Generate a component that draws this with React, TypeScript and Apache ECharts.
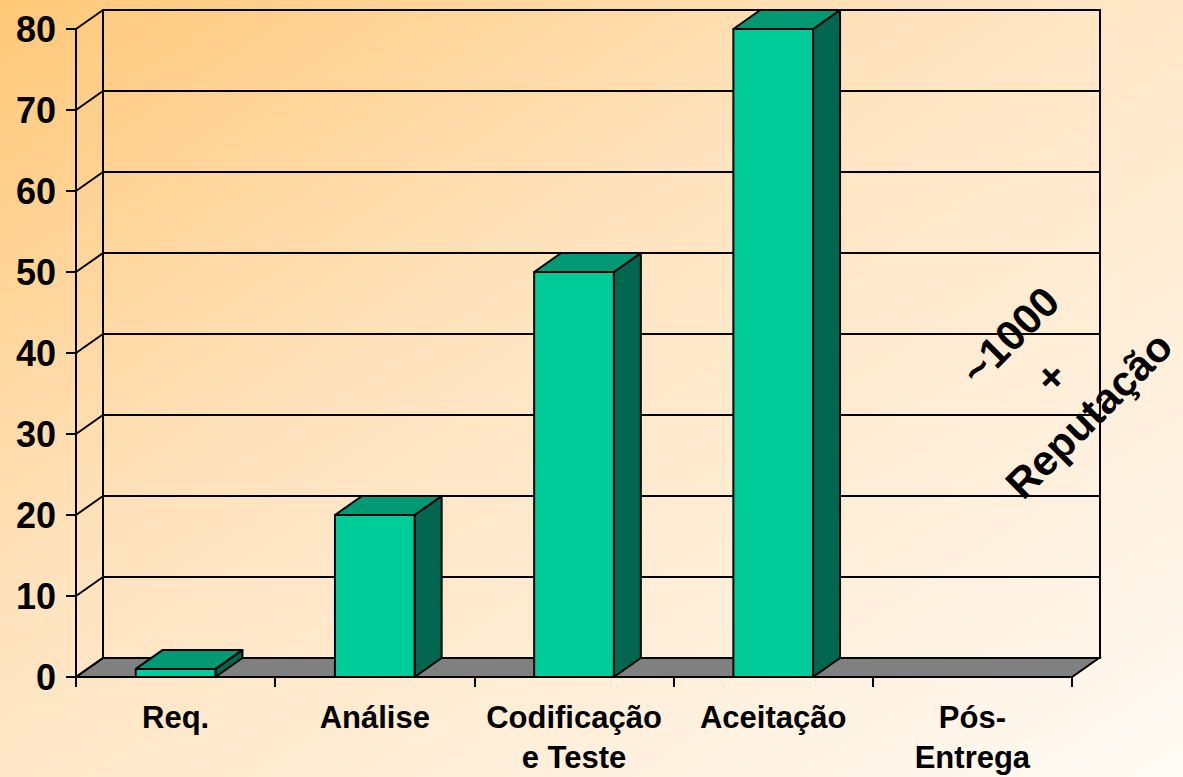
import React, { useEffect, useRef } from "react";
import * as echarts from "echarts";

const CATEGORIES = ["Req.", "Análise", "Codificação\ne Teste", "Aceitação", "Pós-\nEntrega"];
const VALUES: (number | null)[] = [1, 20, 50, 80, null];
const Y_MIN = 0;
const Y_MAX = 80;
const Y_STEP = 10;
const Y_TICKS = [0, 10, 20, 30, 40, 50, 60, 70, 80];
const ANNOTATION = ["~1000", "+", "Reputação"];

const DX = 27;
const DY = -19;
const FONT = '"Liberation Sans", Arial, sans-serif';

export default function App() {
  const ref = useRef<HTMLDivElement>(null);
  useEffect(() => {
    if (!ref.current) return;
    const chart = echarts.init(ref.current, null, { renderer: "svg" });

    const barData = VALUES.map((v, i) => (v === null ? null : [i, v])).filter((d) => d !== null);

    // annotation lines placed along the 45° diagonal, centred on the "+"
    const annCenter = [1051, 377];
    const annStep = 40;
    const annShift = [-1, 0, -2];
    const annotationGraphics = ANNOTATION.map((t, k) => ({
      type: "text",
      x: annCenter[0] + (k - 1) * annStep + annShift[k],
      y: annCenter[1] + (k - 1) * annStep + annShift[k],
      rotation: Math.PI / 4,
      z: 10,
      style: {
        text: t,
        fill: "#000",
        fontFamily: FONT,
        fontWeight: "bold",
        fontSize: 42,
        align: "center",
        verticalAlign: "middle",
        textAlign: "center",
        textVerticalAlign: "middle",
      },
    }));

    const option: any = {
      animation: false,
      backgroundColor: {
        type: "linear",
        x: 0,
        y: 0,
        x2: 1,
        y2: 1,
        colorStops: [
          { offset: 0, color: "#FFC878" },
          { offset: 0.4, color: "#FFE3BE" },
          { offset: 1, color: "#FFFAF4" },
        ],
      },
      grid: [
        { left: 76, right: 111, top: 29, bottom: 100 },
        {
          left: 103,
          right: 83,
          top: 10,
          bottom: 119,
          show: true,
          borderColor: "#000",
          borderWidth: 2,
          backgroundColor: "transparent",
        },
      ],
      xAxis: [
        {
          type: "category",
          gridIndex: 0,
          data: CATEGORIES,
          axisLine: { show: true, lineStyle: { color: "#000", width: 2 } },
          axisTick: { show: true, length: 10, interval: 0, lineStyle: { color: "#000", width: 2 } },
          axisLabel: {
            interval: 0,
            color: "#000",
            fontFamily: FONT,
            fontWeight: "bold",
            fontSize: 31,
            lineHeight: 40,
            margin: 20,
          },
          splitLine: { show: false },
        },
        {
          type: "category",
          gridIndex: 1,
          data: CATEGORIES,
          show: false,
        },
      ],
      yAxis: [
        {
          type: "value",
          gridIndex: 0,
          min: Y_MIN,
          max: Y_MAX,
          interval: Y_STEP,
          axisLine: { show: true, lineStyle: { color: "#000", width: 2 } },
          axisTick: { show: true, length: 10, lineStyle: { color: "#000", width: 2 } },
          axisLabel: {
            color: "#000",
            fontFamily: FONT,
            fontWeight: "bold",
            fontSize: 36,
            margin: 20,
          },
          splitLine: { show: false },
        },
        {
          type: "value",
          gridIndex: 1,
          min: Y_MIN,
          max: Y_MAX,
          interval: Y_STEP,
          axisLine: { show: true, lineStyle: { color: "#000", width: 2 } },
          axisTick: { show: false },
          axisLabel: { show: false },
          splitLine: { show: true, lineStyle: { color: "#000", width: 2 } },
        },
      ],
      series: [
        {
          type: "custom",
          name: "floor",
          xAxisIndex: 0,
          yAxisIndex: 0,
          z: 3,
          data: [[0, 0]],
          encode: { x: 0, y: 1 },
          renderItem: (params: any, api: any) => {
            const bw = api.size([1, 0])[0];
            const p = api.coord([0, 0]);
            const xl = p[0] - bw / 2;
            const xr = xl + bw * CATEGORIES.length;
            const y = p[1];
            return {
              type: "polygon",
              shape: {
                points: [
                  [xl, y],
                  [xr, y],
                  [xr + DX, y + DY],
                  [xl + DX, y + DY],
                ],
              },
              style: { fill: "#808080", stroke: "#000", lineWidth: 2 },
            };
          },
        },
        {
          type: "custom",
          name: "sidewall",
          xAxisIndex: 0,
          yAxisIndex: 0,
          z: 3,
          data: Y_TICKS.map((v) => [0, v]),
          encode: { x: 0, y: 1 },
          renderItem: (params: any, api: any) => {
            const bw = api.size([1, 0])[0];
            const p = api.coord([0, api.value(1)]);
            const x = p[0] - bw / 2;
            return {
              type: "line",
              shape: { x1: x, y1: p[1], x2: x + DX, y2: p[1] + DY },
              style: { stroke: "#000", lineWidth: 2 },
            };
          },
        },
        {
          type: "custom",
          name: "bars",
          xAxisIndex: 0,
          yAxisIndex: 0,
          z: 5,
          data: barData,
          encode: { x: 0, y: 1 },
          renderItem: (params: any, api: any) => {
            const i = api.value(0);
            const v = api.value(1);
            const bw = api.size([1, 0])[0];
            const w = bw * 0.4;
            const top = api.coord([i, v]);
            const base = api.coord([i, 0]);
            const x0 = top[0] - w / 2;
            const x1 = top[0] + w / 2;
            const yt = top[1];
            const yb = base[1];
            const stroke = { stroke: "#000", lineWidth: 2, lineJoin: "round" };
            return {
              type: "group",
              children: [
                {
                  type: "polygon",
                  shape: {
                    points: [
                      [x1, yt],
                      [x1, yb],
                      [x1 + DX, yb + DY],
                      [x1 + DX, yt + DY],
                    ],
                  },
                  style: { fill: "#006650", ...stroke },
                },
                {
                  type: "polygon",
                  shape: {
                    points: [
                      [x0, yt],
                      [x1, yt],
                      [x1 + DX, yt + DY],
                      [x0 + DX, yt + DY],
                    ],
                  },
                  style: { fill: "#009973", ...stroke },
                },
                {
                  type: "rect",
                  shape: { x: x0, y: yt, width: x1 - x0, height: yb - yt },
                  style: { fill: "#00CC99", ...stroke },
                },
              ],
            };
          },
        },
      ],
      graphic: annotationGraphics,
    };
    chart.setOption(option);
    return () => chart.dispose();
  }, []);
  return (
    <div
      ref={ref}
      style={{ position: "fixed", left: 0, top: 0, width: 1183, height: 777 }}
    />
  );
}
